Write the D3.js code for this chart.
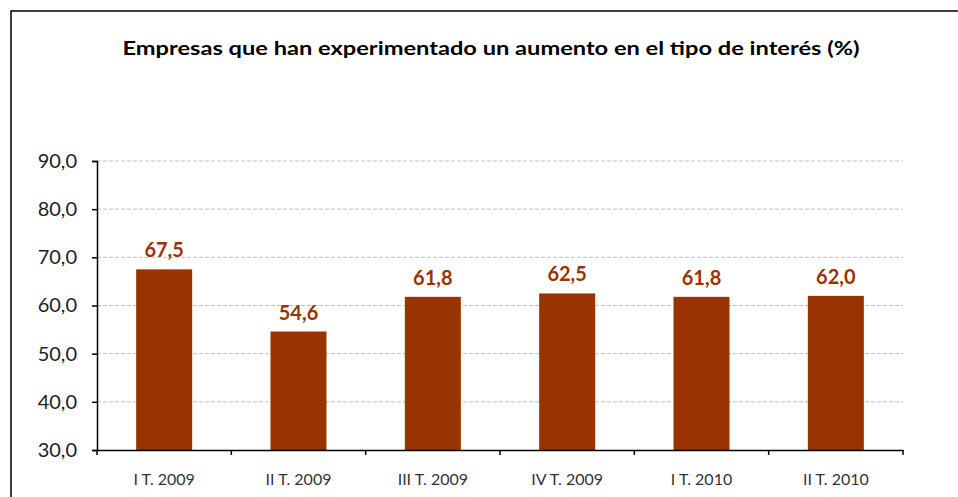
<!DOCTYPE html>
<html>
<head>
<meta charset="utf-8">
<script src="https://cdn.jsdelivr.net/npm/d3@7"></script>
<style>
  body { margin: 0; background: #fff; }
  svg { display: block; font-family: Lato, "DejaVu Sans", sans-serif; }
</style>
</head>
<body>
<div id="chart"></div>
<script>
// chart data
const periods = ["I T. 2009", "II T. 2009", "III T. 2009", "IV T. 2009", "I T. 2010", "II T. 2010"];
const values = [67.5, 54.6, 61.8, 62.5, 61.8, 62.0];
const yTicks = [30, 40, 50, 60, 70, 80, 90];
const title = "Empresas que han experimentado un aumento en el tipo de interés (%)";

const width = 958, height = 497;
const margin = {top: 161, right: 55, bottom: 47, left: 97};
const fmt = v => v.toFixed(1).replace(".", ",");

const svg = d3.select("#chart").append("svg")
  .attr("width", width)
  .attr("height", height);

// frame
svg.append("rect")
  .attr("x", 11).attr("y", 11)
  .attr("width", 960).attr("height", 500)
  .attr("fill", "none")
  .attr("stroke", "#000")
  .attr("stroke-width", 1.5);

svg.append("text")
  .attr("x", 491).attr("y", 55)
  .attr("text-anchor", "middle")
  .attr("font-weight", "bold")
  .attr("font-size", 19)
  .attr("textLength", 737)
  .attr("lengthAdjust", "spacingAndGlyphs")
  .attr("fill", "#000")
  .text(title);

const x = d3.scaleBand()
  .domain(periods)
  .range([margin.left, width - margin.right])
  .padding(0);

const y = d3.scaleLinear()
  .domain([30, 90])
  .range([height - margin.bottom, margin.top]);

// gridlines
svg.append("g")
  .selectAll("line")
  .data(yTicks.slice(1))
  .join("line")
  .attr("x1", margin.left).attr("x2", width - margin.right)
  .attr("y1", d => y(d)).attr("y2", d => y(d))
  .attr("stroke", "#bfbfbf")
  .attr("stroke-width", 1)
  .attr("stroke-dasharray", "4,2");

// bars
const barW = x.bandwidth() * 0.417;
svg.append("g")
  .selectAll("rect")
  .data(values)
  .join("rect")
  .attr("x", (d, i) => x(periods[i]) + (x.bandwidth() - barW) / 2)
  .attr("y", d => y(d))
  .attr("width", barW)
  .attr("height", d => y(30) - y(d))
  .attr("fill", "#993300");

// value labels
svg.append("g")
  .selectAll("text")
  .data(values)
  .join("text")
  .attr("x", (d, i) => x(periods[i]) + x.bandwidth() / 2)
  .attr("y", d => y(d) - 12)
  .attr("text-anchor", "middle")
  .attr("font-weight", "bold")
  .attr("font-size", 20)
  .attr("fill", "#993300")
  .text(d => fmt(d));

// y axis
const yAxis = svg.append("g")
  .attr("transform", `translate(${margin.left},0)`)
  .call(d3.axisLeft(y).tickValues(yTicks).tickFormat(fmt).tickSize(5).tickPadding(15));
yAxis.select(".domain").attr("stroke", "#000").attr("stroke-width", 1.5);
yAxis.selectAll(".tick line").attr("stroke", "#000").attr("stroke-width", 1.5);
yAxis.selectAll(".tick text")
  .attr("font-size", 20)
  .attr("fill", "#222")
  .attr("font-family", "Lato, sans-serif");

// x axis, ticks at band edges
const xAxis = svg.append("g")
  .attr("transform", `translate(0,${y(30)})`)
  .call(d3.axisBottom(x).tickSize(0).tickPadding(24));
xAxis.select(".domain").attr("stroke", "#000").attr("stroke-width", 1.5);
xAxis.selectAll(".tick text")
  .attr("font-size", 16)
  .attr("fill", "#333")
  .attr("font-family", "Lato, sans-serif");
xAxis.selectAll(".edge")
  .data(periods.map(p => x(p)).concat([x(periods[periods.length - 1]) + x.bandwidth()]))
  .join("line")
  .attr("class", "edge")
  .attr("x1", d => d).attr("x2", d => d)
  .attr("y1", 0).attr("y2", 5)
  .attr("stroke", "#000")
  .attr("stroke-width", 1.5);
</script>
</body>
</html>
